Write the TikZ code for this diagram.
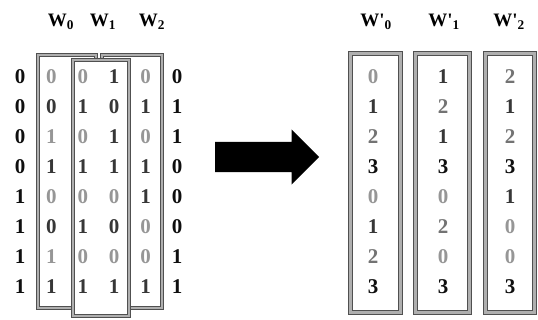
\documentclass[tikz,border=0pt]{standalone}
\usepackage{fontspec}
\setmainfont{Liberation Serif}
\usepackage{xcolor}
\usepackage{tikz}
\usetikzlibrary{shapes.arrows, positioning}
\definecolor{boxline}{RGB}{80, 80, 80}
\definecolor{boxmid}{RGB}{175, 175, 175}
\definecolor{dgl}{RGB}{150, 150, 150}
\definecolor{dgm}{RGB}{115, 115, 115}
\definecolor{dgd}{RGB}{55, 55, 55}
\definecolor{dgk}{RGB}{15, 15, 15}

\tikzset{
    wbox/.style={draw=boxline, double=boxmid, double distance=2.8pt, line width=1pt,
                 fill=white, inner sep=0pt},
    dgt/.style={font=\fontsize{21}{21}\selectfont\bfseries, inner sep=0pt},
    whead/.style={font=\fontsize{19}{19}\selectfont\bfseries, inner sep=0pt}
}

\begin{document}
\begin{tikzpicture}[x=1pt, y=-1pt]
    \useasboundingbox (0,0) rectangle (538,320);

    % left: bit columns and their windows
    \node[wbox, minimum width=58pt, minimum height=253pt] (w0) at (67,181.5) {};
    \node[wbox, minimum width=60pt, minimum height=253pt] (w2) at (132,181.5) {};
    \node[wbox, minimum width=56pt, minimum height=256pt] (w1) at (101,188) {};

    \node[whead] (h0) at (61,22) {W\textsubscript{0}};
    \node[whead] (h1) at (103,22) {W\textsubscript{1}};
    \node[whead] (h2) at (152,22) {W\textsubscript{2}};

    \foreach \cells [count=\r from 0] in {
        {0/k,0/l,0/l,1/d,0/l,0/k}, {0/k,0/d,1/d,0/d,1/d,1/k},
        {0/k,1/l,0/l,1/d,0/l,1/k}, {0/k,1/d,1/d,1/d,1/d,0/k},
        {1/k,0/l,0/l,0/l,1/d,0/k}, {1/k,0/d,1/d,0/d,0/l,0/k},
        {1/k,1/l,0/l,0/l,0/l,1/k}, {1/k,1/d,1/d,1/d,1/d,1/k}} {
        \foreach \v/\s [count=\k from 0] in \cells
            \node[dgt, text=dg\s] (b-\r-\k) at (20+31.4*\k, 77+30*\r) {\v};
    }

    % arrow
    \node[single arrow, fill=black, inner sep=15pt, minimum height=104pt,
          single arrow head extend=12.5pt, anchor=tail] (arrow) at (215,157) {};

    % right: window sums
    \node[wbox, minimum width=50pt, minimum height=259pt] (v0) at (375.5,183) {};
    \node[wbox, minimum width=54pt, minimum height=259pt] (v1) at (442.5,183) {};
    \node[wbox, minimum width=49pt, minimum height=259pt] (v2) at (510,183) {};

    \node[whead] (g0) at (376,22) {W\textquotesingle\textsubscript{0}};
    \node[whead] (g1) at (444,22) {W\textquotesingle\textsubscript{1}};
    \node[whead] (g2) at (509,22) {W\textquotesingle\textsubscript{2}};

    \foreach \x/\cells [count=\c from 0] in {
        373/{0/l,1/d,2/m,3/k,0/l,1/d,2/m,3/k},
        443/{1/d,2/m,1/d,3/k,0/l,2/m,0/l,3/k},
        510/{2/m,1/d,2/m,3/k,1/d,0/l,0/l,3/k}} {
        \foreach \v/\s [count=\r from 0] in \cells
            \node[dgt, text=dg\s] (s-\c-\r) at (\x, 77+30*\r) {\v};
    }
\end{tikzpicture}
\end{document}
